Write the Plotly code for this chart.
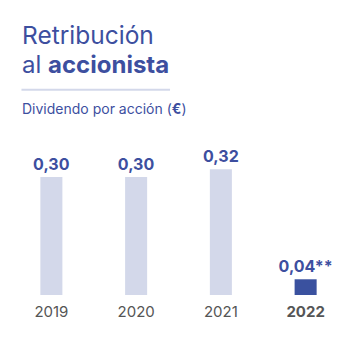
import plotly.graph_objects as go

years = ["2019", "2020", "2021", "2022"]
year_labels = ["2019", "2020", "2021", "<b>2022</b>"]
dividends = [0.30, 0.30, 0.32, 0.04]
value_labels = ["0,30", "0,30", "0,32", "0,04**"]
bar_colors = ["#d3d8ea", "#d3d8ea", "#d3d8ea", "#3a519f"]

W, H = 354, 338
L, R, T, B = 8.5, 5.5, 130, 43
pw, ph = W - L - R, H - T - B

def px(x):
    return (x - L) / pw

def py(y):
    return (H - B - y) / ph

FONT = "Inter"
BLUE = "#3d4f9f"

fig = go.Figure()
fig.add_trace(go.Bar(
    x=years, y=dividends, width=0.26,
    marker=dict(color=bar_colors, line=dict(width=0)),
    text=["<b>%s</b>" % t for t in value_labels],
    textposition="outside", cliponaxis=False, constraintext="none",
    textfont=dict(family=FONT, size=16, color=BLUE),
))

fig.update_layout(
    width=W, height=H,
    margin=dict(l=L, r=R, t=T, b=B, pad=0),
    paper_bgcolor="white", plot_bgcolor="white",
    showlegend=False,
    xaxis=dict(type="category", range=[-0.5, 3.5], tickvals=years, ticktext=year_labels,
               showgrid=False, zeroline=False, showline=False, ticks="",
               ticklabelstandoff=6,
               tickfont=dict(family=FONT, size=15, color="#555555")),
    yaxis=dict(range=[0, ph / 393.0], visible=False),
    annotations=[
        dict(text="Retribución", xref="paper", yref="paper", x=px(20), y=py(35),
             xanchor="left", yanchor="middle", showarrow=False,
             font=dict(family=FONT, size=24.5, color=BLUE)),
        dict(text="al <b>accionista</b>", xref="paper", yref="paper", x=px(20), y=py(65),
             xanchor="left", yanchor="middle", showarrow=False,
             font=dict(family=FONT, size=24, color=BLUE)),
        dict(text="Dividendo por acción (<b>€</b>)", xref="paper", yref="paper", x=px(20), y=py(108),
             xanchor="left", yanchor="middle", showarrow=False,
             font=dict(family=FONT, size=14, color=BLUE)),
    ],
    shapes=[dict(type="line", xref="paper", yref="paper", x0=px(21), x1=px(170),
                 y0=py(89.7), y1=py(89.7), line=dict(color="#d3d8ea", width=2))],
)

fig.write_html("out.html")
